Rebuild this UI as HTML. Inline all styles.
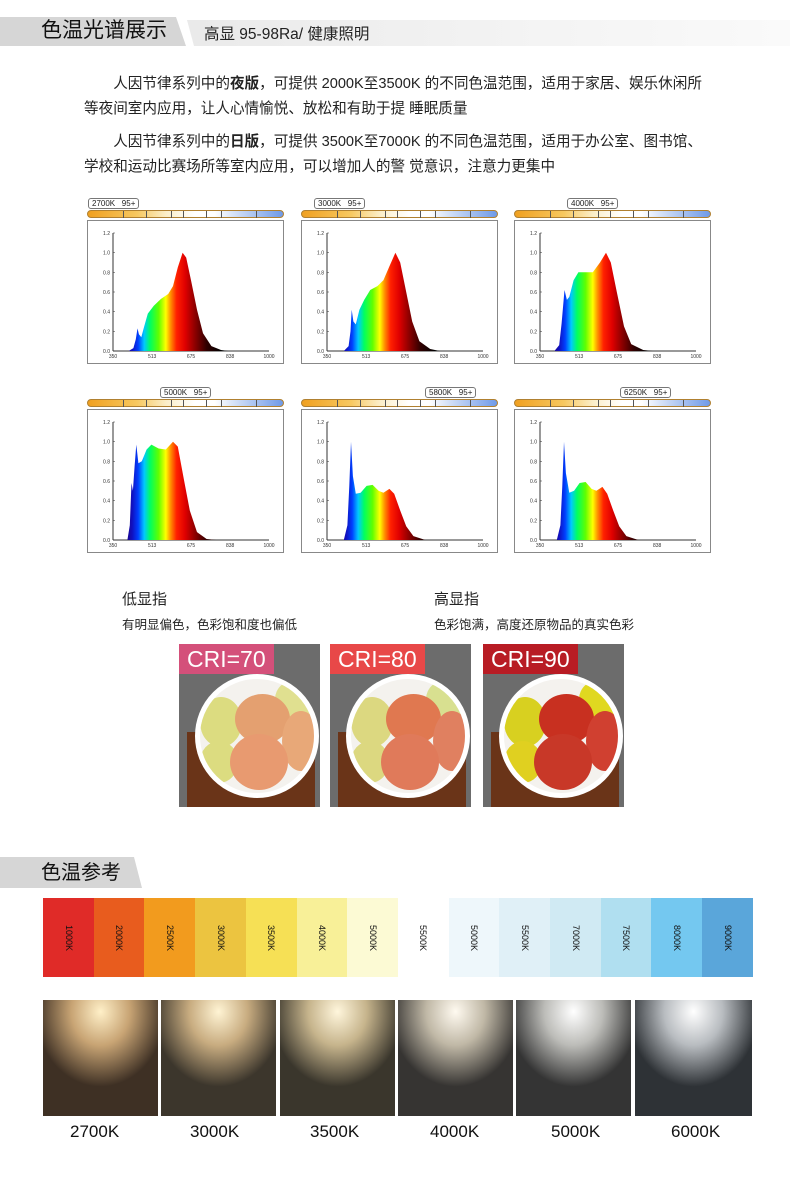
<!DOCTYPE html>
<html><head><meta charset="utf-8">
<style>
*{margin:0;padding:0;box-sizing:border-box}
body{width:790px;height:1193px;background:#fff;position:relative;overflow:hidden;font-family:"Liberation Sans","Noto Sans CJK SC",sans-serif;color:#222}
.a{position:absolute}
.p{font-size:14.6px;line-height:25px;color:#222;white-space:nowrap}
.chart{position:absolute;width:197px;height:157px}
.cbar{position:absolute;left:0;top:12px;width:197px;height:8px;border-radius:4px;background:linear-gradient(90deg,#f0a020,#f7c860 25%,#fbeec8 40%,#fff 55%,#fff 65%,#c8d8f5 78%,#6f9ae8);border:1px solid #b08030}
.cbar i{position:absolute;top:0;width:1px;height:7px;background:#555}
.lab{position:absolute;top:0;height:11px;border:1px solid #777;border-radius:3px;background:#fff;font-size:8px;line-height:9px;padding:0 3px;white-space:pre;color:#222}
.box{position:absolute;left:0;top:22px;width:197px;height:144px;border:1px solid #888;background:#fff}
.cell{position:absolute;top:898px;height:79px;width:51px}
.cell span{position:absolute;left:50%;top:50%;transform:translate(-50%,-50%) rotate(90deg);font-size:9px;color:#111;white-space:nowrap}
.lamp{position:absolute;top:1000px;height:116px;width:116px}
.lk{position:absolute;top:1122px;font-size:17px;color:#111}
.fr{position:absolute;top:644px;width:141px;height:163px;background:#6c6c6c;overflow:hidden}
.fr .board{position:absolute;left:8px;bottom:0;width:128px;height:75px;background:#6a3418}
.fr .ring{position:absolute;left:16px;top:30px;width:124px;height:124px;border-radius:50%;border:5px solid #fff;background:#f4f2ee;overflow:hidden}
.fr .f{position:absolute;border-radius:50%}
.fr .t{position:absolute;left:0;top:0;height:30px;color:#fff;font-size:23px;line-height:30px;padding:0 8px}
</style></head><body>

<div class="a" style="left:0;top:17px;width:186px;height:29px;background:#d6d6d6;clip-path:polygon(0 0,176px 0,186px 29px,0 29px)"></div>
<div class="a" style="left:187px;top:20px;width:603px;height:26px;background:linear-gradient(90deg,#eaeaea,#f4f4f4 60%,#fafafa);clip-path:polygon(0 0,603px 0,603px 26px,7px 26px)"></div>
<div class="a" style="left:41px;top:17px;font-size:21px;line-height:28px;color:#111">色温光谱展示</div>
<div class="a" style="left:204px;top:23px;font-size:15.5px;line-height:24px;color:#222">高显 95-98Ra/ 健康照明</div>

<div class="a p" style="left:84px;top:72px">　　人因节律系列中的<b>夜版</b>，可提供 2000K至3500K 的不同色温范围，适用于家居、娱乐休闲所<br>等夜间室内应用，让人心情愉悦、放松和有助于提 睡眠质量</div>
<div class="a p" style="left:84px;top:130px">　　人因节律系列中的<b>日版</b>，可提供 3500K至7000K 的不同色温范围，适用于办公室、图书馆、<br>学校和运动比赛场所等室内应用，可以增加人的警 觉意识，注意力更集中</div>

<div id="charts"></div>

<div class="a" style="left:122px;top:588px;font-size:15px">低显指</div>
<div class="a" style="left:122px;top:614px;font-size:12.5px">有明显偏色，色彩饱和度也偏低</div>
<div class="a" style="left:434px;top:588px;font-size:15px">高显指</div>
<div class="a" style="left:434px;top:614px;font-size:12.5px">色彩饱满，高度还原物品的真实色彩</div>

<div id="fruits"></div>

<div class="a" style="left:0;top:857px;width:142px;height:31px;background:#d6d6d6;clip-path:polygon(0 0,134px 0,142px 31px,0 31px)"></div>
<div class="a" style="left:41px;top:859px;font-size:20px;line-height:28px;color:#111">色温参考</div>

<div id="cells"></div>
<div id="lamps"></div>

<script>
var specs=[
 [[415,0],[435,.03],[445,.12],[452,.23],[458,.17],[468,.14],[480,.25],[495,.38],[520,.46],[550,.53],[580,.58],[600,.66],[620,.85],[640,1],[655,.95],[675,.72],[700,.42],[725,.18],[760,.05],[800,.01],[830,0]],
 [[420,0],[440,.05],[448,.2],[453,.42],[460,.3],[470,.27],[485,.42],[505,.52],[530,.62],[560,.66],[585,.72],[610,.86],[635,1],[655,.9],[680,.6],[705,.3],[735,.1],[780,.02],[820,0]],
 [[410,0],[430,.06],[440,.28],[452,.62],[462,.52],[472,.55],[490,.72],[510,.8],[540,.8],[570,.8],[600,.9],[625,1],[645,.9],[670,.6],[700,.25],[730,.07],[780,.01],[820,0]],
 [[410,0],[420,.15],[427,.58],[433,.5],[440,.75],[447,.97],[456,.78],[470,.8],[490,.92],[510,.97],[540,.93],[570,.92],[600,1],[620,.95],[645,.62],[670,.3],[700,.08],[740,.01],[780,0]],
 [[420,0],[435,.15],[443,.55],[450,1],[458,.65],[470,.47],[490,.48],[515,.55],[540,.56],[565,.5],[585,.48],[610,.52],[630,.47],[655,.3],[680,.14],[710,.04],[760,0]],
 [[420,0],[435,.15],[443,.55],[450,1],[458,.68],[472,.48],[492,.5],[515,.58],[540,.59],[565,.52],[585,.5],[610,.54],[630,.47],[655,.3],[680,.14],[710,.04],[760,0]]
];
var pos=[[87,198,'2700K   95+',1],[301,198,'3000K   95+',13],[514,198,'4000K   95+',53],[87,387,'5000K   95+',73],[301,387,'5800K   95+',124],[514,387,'6250K   95+',106]];
var h='';
var grad='<linearGradient id="sg" gradientUnits="userSpaceOnUse" x1="26" x2="182" y1="0" y2="0">'+
[[400,'#20007a'],[430,'#1010c0'],[455,'#0040ff'],[480,'#00c8ff'],[505,'#00ff60'],[540,'#60ff00'],[570,'#ffff00'],[590,'#ff9000'],[615,'#ff2000'],[650,'#e00000'],[690,'#900000'],[740,'#300000'],[800,'#000']].map(function(s){return '<stop offset="'+((s[0]-350)/650)+'" stop-color="'+s[1]+'"/>'}).join('')+'</linearGradient>';
function X(w){return 26+(w-350)/650*156}
function Y(v){return 131-v/1.2*118}
for(var i=0;i<6;i++){
 var p=pos[i];
 var ticks='';[35,58,83,95,118,133,168].forEach(function(t){ticks+='<i style="left:'+t+'px"></i>'});
 var d='M'+X(specs[i][0][0])+','+Y(0);
 specs[i].forEach(function(s){d+=' L'+X(s[0]).toFixed(1)+','+Y(s[1]).toFixed(1)});
 d+=' Z';
 var svg='<svg width="197" height="144" style="position:absolute;left:-1px;top:-1px"><defs>'+grad.replace(/id="sg"/,'id="sg'+i+'"')+'</defs>';
 svg+='<line x1="26" y1="13" x2="26" y2="131" stroke="#333" stroke-width="1"/><line x1="26" y1="131" x2="182" y2="131" stroke="#333"/>';
 for(var k=0;k<=6;k++){var yy=Y(k*0.2);svg+='<text x="23" y="'+(yy+2)+'" font-size="5" text-anchor="end" fill="#333" font-family="Liberation Sans">'+(k*0.2).toFixed(1)+'</text><line x1="26" x2="28" y1="'+yy+'" y2="'+yy+'" stroke="#333" stroke-width=".5"/>'}
 [350,513,675,838,1000].forEach(function(w){svg+='<text x="'+X(w)+'" y="138" font-size="5" text-anchor="middle" fill="#333" font-family="Liberation Sans">'+w+'</text>'});
 svg+='<path d="'+d+'" fill="url(#sg'+i+')"/></svg>';
 h+='<div class="chart" style="left:'+p[0]+'px;top:'+p[1]+'px"><div class="cbar">'+ticks+'</div><div class="lab" style="left:'+p[3]+'px">'+p[2]+'</div><div class="box">'+svg+'</div></div>';
}
document.getElementById('charts').innerHTML=h;

var fr=[[179,'#d4507a','CRI=70',['#dcdc80','#e4a070','#e89a70','#dcdc80','#e8a878'],'#e0e090'],
        [330,'#e84848','CRI=80',['#dcd880','#e07850','#e07a5a','#dcd880','#e08060'],'#d8e090'],
        [483,'#b81c24','CRI=90',['#d8d020','#c83020','#c83828','#e0d020','#d04030'],'#e0d820']];
h='';
fr.forEach(function(f){
 var c=f[3];
 h+='<div class="fr" style="left:'+f[0]+'px"><div class="board"></div><div class="ring">'+
 '<div class="f" style="left:0px;top:18px;width:42px;height:50px;background:'+c[0]+'"></div>'+
 '<div class="f" style="left:75px;top:0px;width:45px;height:40px;background:'+f[4]+'"></div>'+
 '<div class="f" style="left:35px;top:15px;width:55px;height:50px;background:'+c[1]+'"></div>'+
 '<div class="f" style="left:82px;top:32px;width:38px;height:60px;background:'+c[4]+'"></div>'+
 '<div class="f" style="left:0px;top:62px;width:38px;height:42px;background:'+c[3]+'"></div>'+
 '<div class="f" style="left:30px;top:55px;width:58px;height:56px;background:'+c[2]+'"></div>'+
 '</div><div class="t" style="background:'+f[1]+'">'+f[2]+'</div></div>';
});
document.getElementById('fruits').innerHTML=h;

var cells=[['#e02b28','1000K'],['#e85c1e','2000K'],['#f29b1e','2500K'],['#ecc440','3000K'],['#f6e055','3500K'],['#f8f098','4000K'],['#fcfad4','5000K'],['#ffffff','5500K'],['#eef7fb','5000K'],['#e0f0f7','5500K'],['#d0eaf3','7000K'],['#b0dff0','7500K'],['#74c8f0','8000K'],['#5aa6da','9000K']];
h='';
cells.forEach(function(c,i){h+='<div class="cell" style="left:'+(43+i*50.7)+'px;background:'+c[0]+'"><span>'+c[1]+'</span></div>'});
document.getElementById('cells').innerHTML=h;

var lamps=[[43,'#fff0c8','#c8a474','#3e3024','2700K',70],[161,'#fff4d4','#c8ac80','#3c362c','3000K',190],[280,'#fff6dc','#c6b48c','#3a362c','3500K',310],[398,'#fffaf0','#c0b8a6','#363432','4000K',430],[516,'#ffffff','#bcbcb8','#343434','5000K',551],[635,'#ffffff','#b8bcc0','#2e3236','6000K',671]];
h='';
lamps.forEach(function(l){
 h+='<div class="lamp" style="left:'+l[0]+'px;width:'+(l[0]==635?117:115)+'px;background:radial-gradient(ellipse 65px 75px at 50% 10%,'+l[1]+' 0%,'+l[2]+' 45%,'+l[3]+' 100%),'+l[3]+'"></div><div class="lk" style="left:'+l[5]+'px">'+l[4]+'</div>';
});
document.getElementById('lamps').innerHTML=h;
</script>
</body></html>
